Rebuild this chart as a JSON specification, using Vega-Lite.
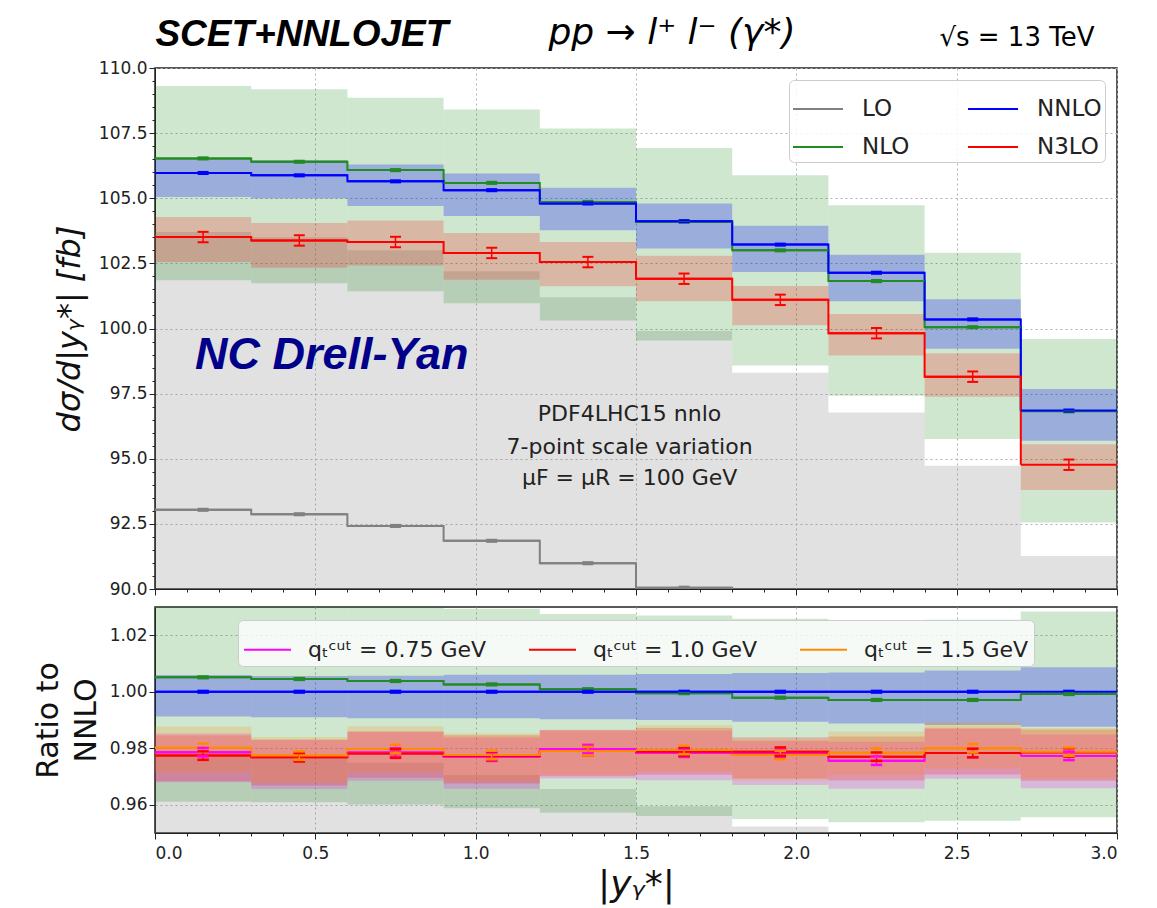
{
  "$schema": "https://vega.github.io/schema/vega-lite/v6.json",
  "padding": {"left": 32, "top": 14, "right": 5, "bottom": 5},
  "background": "white",
  "spacing": 8,
  "config": {
    "font": "DejaVu Sans",
    "view": {"stroke": "#222222", "strokeWidth": 1.5},
    "axis": {"gridColor": "#b0b0b0", "gridDash": [2, 3], "gridWidth": 1, "domainColor": "#222222", "tickColor": "#222222", "labelColor": "#222222", "labelFont": "DejaVu Sans", "titleFont": "DejaVu Sans", "titleColor": "#111111", "titleFontWeight": "normal", "labelFontSize": 17}
  },
  "datasets": {
    "up": [
      {"s":"LO","lo":0,"hi":0.3,"m":0.15,"c":93.04,"el":93.0,"eh":93.08,"bl":83.7,"bh":103.7},
      {"s":"LO","lo":0.3,"hi":0.6,"m":0.45,"c":92.87,"el":92.83,"eh":92.91,"bl":83.6,"bh":103.5},
      {"s":"LO","lo":0.6,"hi":0.9,"m":0.75,"c":92.42,"el":92.38,"eh":92.46,"bl":83.2,"bh":103.0},
      {"s":"LO","lo":0.9,"hi":1.2,"m":1.05,"c":91.85,"el":91.81,"eh":91.89,"bl":82.7,"bh":102.2},
      {"s":"LO","lo":1.2,"hi":1.5,"m":1.35,"c":90.99,"el":90.95,"eh":91.03,"bl":81.9,"bh":101.2},
      {"s":"LO","lo":1.5,"hi":1.8,"m":1.65,"c":90.05,"el":90.01,"eh":90.09,"bl":81.0,"bh":99.9},
      {"s":"LO","lo":1.8,"hi":2.1,"m":1.95,"c":89.0,"el":88.96,"eh":89.04,"bl":80.1,"bh":98.3},
      {"s":"LO","lo":2.1,"hi":2.4,"m":2.25,"c":87.8,"el":87.76,"eh":87.84,"bl":79.0,"bh":96.78},
      {"s":"LO","lo":2.4,"hi":2.7,"m":2.55,"c":86.1,"el":86.06,"eh":86.14,"bl":77.5,"bh":94.73},
      {"s":"LO","lo":2.7,"hi":3.0,"m":2.85,"c":83.5,"el":83.46,"eh":83.54,"bl":75.2,"bh":91.27},
      {"s":"NLO","lo":0,"hi":0.3,"m":0.15,"c":106.53,"el":106.49,"eh":106.57,"bl":101.85,"bh":109.31},
      {"s":"NLO","lo":0.3,"hi":0.6,"m":0.45,"c":106.4,"el":106.36,"eh":106.44,"bl":101.74,"bh":109.18},
      {"s":"NLO","lo":0.6,"hi":0.9,"m":0.75,"c":106.08,"el":106.04,"eh":106.12,"bl":101.43,"bh":108.86},
      {"s":"NLO","lo":0.9,"hi":1.2,"m":1.05,"c":105.59,"el":105.55,"eh":105.63,"bl":100.97,"bh":108.41},
      {"s":"NLO","lo":1.2,"hi":1.5,"m":1.35,"c":104.86,"el":104.82,"eh":104.9,"bl":100.31,"bh":107.68},
      {"s":"NLO","lo":1.5,"hi":1.8,"m":1.65,"c":104.1,"el":104.06,"eh":104.14,"bl":99.54,"bh":106.93},
      {"s":"NLO","lo":1.8,"hi":2.1,"m":1.95,"c":103.0,"el":102.96,"eh":103.04,"bl":98.58,"bh":105.88},
      {"s":"NLO","lo":2.1,"hi":2.4,"m":2.25,"c":101.82,"el":101.78,"eh":101.86,"bl":97.42,"bh":104.73},
      {"s":"NLO","lo":2.4,"hi":2.7,"m":2.55,"c":100.05,"el":100.01,"eh":100.09,"bl":95.76,"bh":102.91},
      {"s":"NLO","lo":2.7,"hi":3.0,"m":2.85,"c":96.82,"el":96.78,"eh":96.86,"bl":92.55,"bh":99.6},
      {"s":"NNLO","lo":0,"hi":0.3,"m":0.15,"c":105.97,"el":105.93,"eh":106.01,"bl":105.05,"bh":106.5},
      {"s":"NNLO","lo":0.3,"hi":0.6,"m":0.45,"c":105.88,"el":105.84,"eh":105.92,"bl":104.99,"bh":106.46},
      {"s":"NNLO","lo":0.6,"hi":0.9,"m":0.75,"c":105.65,"el":105.61,"eh":105.69,"bl":104.7,"bh":106.3},
      {"s":"NNLO","lo":0.9,"hi":1.2,"m":1.05,"c":105.31,"el":105.27,"eh":105.35,"bl":104.32,"bh":105.95},
      {"s":"NNLO","lo":1.2,"hi":1.5,"m":1.35,"c":104.8,"el":104.76,"eh":104.84,"bl":103.77,"bh":105.4},
      {"s":"NNLO","lo":1.5,"hi":1.8,"m":1.65,"c":104.12,"el":104.08,"eh":104.16,"bl":103.07,"bh":104.8},
      {"s":"NNLO","lo":1.8,"hi":2.1,"m":1.95,"c":103.22,"el":103.18,"eh":103.26,"bl":102.17,"bh":103.94},
      {"s":"NNLO","lo":2.1,"hi":2.4,"m":2.25,"c":102.14,"el":102.1,"eh":102.18,"bl":101.05,"bh":102.83},
      {"s":"NNLO","lo":2.4,"hi":2.7,"m":2.55,"c":100.35,"el":100.31,"eh":100.39,"bl":99.22,"bh":101.12},
      {"s":"NNLO","lo":2.7,"hi":3.0,"m":2.85,"c":96.85,"el":96.81,"eh":96.89,"bl":95.69,"bh":97.68},
      {"s":"N3LO","lo":0,"hi":0.3,"m":0.15,"c":103.51,"el":103.31,"eh":103.71,"bl":102.55,"bh":104.28},
      {"s":"N3LO","lo":0.3,"hi":0.6,"m":0.45,"c":103.38,"el":103.18,"eh":103.58,"bl":102.33,"bh":104.05},
      {"s":"N3LO","lo":0.6,"hi":0.9,"m":0.75,"c":103.32,"el":103.12,"eh":103.52,"bl":102.42,"bh":104.15},
      {"s":"N3LO","lo":0.9,"hi":1.2,"m":1.05,"c":102.9,"el":102.7,"eh":103.1,"bl":101.87,"bh":103.67},
      {"s":"N3LO","lo":1.2,"hi":1.5,"m":1.35,"c":102.55,"el":102.35,"eh":102.75,"bl":101.62,"bh":103.32},
      {"s":"N3LO","lo":1.5,"hi":1.8,"m":1.65,"c":101.91,"el":101.71,"eh":102.11,"bl":101.05,"bh":102.79},
      {"s":"N3LO","lo":1.8,"hi":2.1,"m":1.95,"c":101.1,"el":100.9,"eh":101.3,"bl":100.12,"bh":101.63},
      {"s":"N3LO","lo":2.1,"hi":2.4,"m":2.25,"c":99.82,"el":99.62,"eh":100.02,"bl":98.96,"bh":100.56},
      {"s":"N3LO","lo":2.4,"hi":2.7,"m":2.55,"c":98.15,"el":97.95,"eh":98.35,"bl":97.38,"bh":99.05},
      {"s":"N3LO","lo":2.7,"hi":3.0,"m":2.85,"c":94.77,"el":94.57,"eh":94.97,"bl":93.8,"bh":95.56}
    ],
    "rat": [
      {"s":"LO","lo":0,"hi":0.3,"m":0.15,"c":0.878,"el":0.878,"eh":0.878,"bl":0.8,"bh":0.9786},
      {"s":"LO","lo":0.3,"hi":0.6,"m":0.45,"c":0.877,"el":0.877,"eh":0.877,"bl":0.8,"bh":0.9775},
      {"s":"LO","lo":0.6,"hi":0.9,"m":0.75,"c":0.875,"el":0.875,"eh":0.875,"bl":0.8,"bh":0.9749},
      {"s":"LO","lo":0.9,"hi":1.2,"m":1.05,"c":0.872,"el":0.872,"eh":0.872,"bl":0.8,"bh":0.9705},
      {"s":"LO","lo":1.2,"hi":1.5,"m":1.35,"c":0.868,"el":0.868,"eh":0.868,"bl":0.8,"bh":0.9656},
      {"s":"LO","lo":1.5,"hi":1.8,"m":1.65,"c":0.865,"el":0.865,"eh":0.865,"bl":0.8,"bh":0.9595},
      {"s":"LO","lo":1.8,"hi":2.1,"m":1.95,"c":0.862,"el":0.862,"eh":0.862,"bl":0.8,"bh":0.9523},
      {"s":"LO","lo":2.1,"hi":2.4,"m":2.25,"c":0.86,"el":0.86,"eh":0.86,"bl":0.8,"bh":0.9475},
      {"s":"LO","lo":2.4,"hi":2.7,"m":2.55,"c":0.858,"el":0.858,"eh":0.858,"bl":0.8,"bh":0.944},
      {"s":"LO","lo":2.7,"hi":3.0,"m":2.85,"c":0.862,"el":0.862,"eh":0.862,"bl":0.8,"bh":0.9424},
      {"s":"NLO","lo":0,"hi":0.3,"m":0.15,"c":1.0051,"el":1.0048,"eh":1.0054,"bl":0.9611,"bh":1.0315},
      {"s":"NLO","lo":0.3,"hi":0.6,"m":0.45,"c":1.0045,"el":1.0042,"eh":1.0048,"bl":0.9609,"bh":1.0312},
      {"s":"NLO","lo":0.6,"hi":0.9,"m":0.75,"c":1.0038,"el":1.0035,"eh":1.0041,"bl":0.9601,"bh":1.0304},
      {"s":"NLO","lo":0.9,"hi":1.2,"m":1.05,"c":1.0026,"el":1.0023,"eh":1.0029,"bl":0.9588,"bh":1.0294},
      {"s":"NLO","lo":1.2,"hi":1.5,"m":1.35,"c":1.0009,"el":1.0006,"eh":1.0012,"bl":0.9572,"bh":1.0275},
      {"s":"NLO","lo":1.5,"hi":1.8,"m":1.65,"c":0.9995,"el":0.9992,"eh":0.9998,"bl":0.956,"bh":1.027},
      {"s":"NLO","lo":1.8,"hi":2.1,"m":1.95,"c":0.9979,"el":0.9976,"eh":0.9982,"bl":0.955,"bh":1.0258},
      {"s":"NLO","lo":2.1,"hi":2.4,"m":2.25,"c":0.9971,"el":0.9968,"eh":0.9974,"bl":0.9538,"bh":1.0254},
      {"s":"NLO","lo":2.4,"hi":2.7,"m":2.55,"c":0.9971,"el":0.9968,"eh":0.9974,"bl":0.9543,"bh":1.0255},
      {"s":"NLO","lo":2.7,"hi":3.0,"m":2.85,"c":0.9992,"el":0.9989,"eh":0.9995,"bl":0.9556,"bh":1.0284},
      {"s":"NNLO","lo":0,"hi":0.3,"m":0.15,"c":1.0,"el":0.9997,"eh":1.0003,"bl":0.9912,"bh":1.0059},
      {"s":"NNLO","lo":0.3,"hi":0.6,"m":0.45,"c":1.0,"el":0.9997,"eh":1.0003,"bl":0.991,"bh":1.0056},
      {"s":"NNLO","lo":0.6,"hi":0.9,"m":0.75,"c":1.0,"el":0.9997,"eh":1.0003,"bl":0.9906,"bh":1.0057},
      {"s":"NNLO","lo":0.9,"hi":1.2,"m":1.05,"c":1.0,"el":0.9997,"eh":1.0003,"bl":0.9906,"bh":1.006},
      {"s":"NNLO","lo":1.2,"hi":1.5,"m":1.35,"c":1.0,"el":0.9997,"eh":1.0003,"bl":0.9903,"bh":1.006},
      {"s":"NNLO","lo":1.5,"hi":1.8,"m":1.65,"c":1.0,"el":0.9997,"eh":1.0003,"bl":0.99,"bh":1.0063},
      {"s":"NNLO","lo":1.8,"hi":2.1,"m":1.95,"c":1.0,"el":0.9997,"eh":1.0003,"bl":0.9894,"bh":1.0066},
      {"s":"NNLO","lo":2.1,"hi":2.4,"m":2.25,"c":1.0,"el":0.9997,"eh":1.0003,"bl":0.9888,"bh":1.0068},
      {"s":"NNLO","lo":2.4,"hi":2.7,"m":2.55,"c":1.0,"el":0.9997,"eh":1.0003,"bl":0.9882,"bh":1.0075},
      {"s":"NNLO","lo":2.7,"hi":3.0,"m":2.85,"c":1.0,"el":0.9997,"eh":1.0003,"bl":0.9876,"bh":1.0087},
      {"s":"q075","lo":0,"hi":0.3,"m":0.15,"c":0.9786,"el":0.9771,"eh":0.9801,"bl":0.968,"bh":0.9853},
      {"s":"q075","lo":0.3,"hi":0.6,"m":0.45,"c":0.9771,"el":0.9756,"eh":0.9786,"bl":0.9656,"bh":0.9829},
      {"s":"q075","lo":0.6,"hi":0.9,"m":0.75,"c":0.9785,"el":0.977,"eh":0.98,"bl":0.9685,"bh":0.9858},
      {"s":"q075","lo":0.9,"hi":1.2,"m":1.05,"c":0.977,"el":0.9755,"eh":0.9785,"bl":0.9657,"bh":0.9838},
      {"s":"q075","lo":1.2,"hi":1.5,"m":1.35,"c":0.9797,"el":0.9782,"eh":0.9812,"bl":0.9693,"bh":0.9865},
      {"s":"q075","lo":1.5,"hi":1.8,"m":1.65,"c":0.9784,"el":0.9769,"eh":0.9799,"bl":0.9687,"bh":0.9863},
      {"s":"q075","lo":1.8,"hi":2.1,"m":1.95,"c":0.978,"el":0.9765,"eh":0.9795,"bl":0.967,"bh":0.9826},
      {"s":"q075","lo":2.1,"hi":2.4,"m":2.25,"c":0.9756,"el":0.9741,"eh":0.9771,"bl":0.9657,"bh":0.9823},
      {"s":"q075","lo":2.4,"hi":2.7,"m":2.55,"c":0.9783,"el":0.9768,"eh":0.9798,"bl":0.9692,"bh":0.9868},
      {"s":"q075","lo":2.7,"hi":3.0,"m":2.85,"c":0.9773,"el":0.9758,"eh":0.9788,"bl":0.9658,"bh":0.9849},
      {"s":"q10","lo":0,"hi":0.3,"m":0.15,"c":0.9774,"el":0.9759,"eh":0.9789,"bl":0.9683,"bh":0.9846},
      {"s":"q10","lo":0.3,"hi":0.6,"m":0.45,"c":0.9768,"el":0.9753,"eh":0.9783,"bl":0.9668,"bh":0.9831},
      {"s":"q10","lo":0.6,"hi":0.9,"m":0.75,"c":0.9781,"el":0.9766,"eh":0.9796,"bl":0.9696,"bh":0.9859},
      {"s":"q10","lo":0.9,"hi":1.2,"m":1.05,"c":0.9773,"el":0.9758,"eh":0.9788,"bl":0.9675,"bh":0.9846},
      {"s":"q10","lo":1.2,"hi":1.5,"m":1.35,"c":0.979,"el":0.9775,"eh":0.9805,"bl":0.9701,"bh":0.9863},
      {"s":"q10","lo":1.5,"hi":1.8,"m":1.65,"c":0.9788,"el":0.9773,"eh":0.9803,"bl":0.9706,"bh":0.9872},
      {"s":"q10","lo":1.8,"hi":2.1,"m":1.95,"c":0.9788,"el":0.9773,"eh":0.9803,"bl":0.9693,"bh":0.9839},
      {"s":"q10","lo":2.1,"hi":2.4,"m":2.25,"c":0.977,"el":0.9755,"eh":0.9785,"bl":0.9686,"bh":0.9842},
      {"s":"q10","lo":2.4,"hi":2.7,"m":2.55,"c":0.9783,"el":0.9768,"eh":0.9798,"bl":0.9707,"bh":0.9873},
      {"s":"q10","lo":2.7,"hi":3.0,"m":2.85,"c":0.9785,"el":0.977,"eh":0.98,"bl":0.9685,"bh":0.9866},
      {"s":"q15","lo":0,"hi":0.3,"m":0.15,"c":0.9802,"el":0.9787,"eh":0.9817,"bl":0.9716,"bh":0.9877},
      {"s":"q15","lo":0.3,"hi":0.6,"m":0.45,"c":0.9774,"el":0.9759,"eh":0.9789,"bl":0.9679,"bh":0.984},
      {"s":"q15","lo":0.6,"hi":0.9,"m":0.75,"c":0.9797,"el":0.9782,"eh":0.9812,"bl":0.9717,"bh":0.9878},
      {"s":"q15","lo":0.9,"hi":1.2,"m":1.05,"c":0.9776,"el":0.9761,"eh":0.9791,"bl":0.9683,"bh":0.9852},
      {"s":"q15","lo":1.2,"hi":1.5,"m":1.35,"c":0.979,"el":0.9775,"eh":0.9805,"bl":0.9706,"bh":0.9866},
      {"s":"q15","lo":1.5,"hi":1.8,"m":1.65,"c":0.9794,"el":0.9779,"eh":0.9809,"bl":0.9717,"bh":0.9881},
      {"s":"q15","lo":1.8,"hi":2.1,"m":1.95,"c":0.9776,"el":0.9761,"eh":0.9791,"bl":0.9686,"bh":0.983},
      {"s":"q15","lo":2.1,"hi":2.4,"m":2.25,"c":0.9784,"el":0.9769,"eh":0.9799,"bl":0.9705,"bh":0.9859},
      {"s":"q15","lo":2.4,"hi":2.7,"m":2.55,"c":0.98,"el":0.9785,"eh":0.9815,"bl":0.9729,"bh":0.9893},
      {"s":"q15","lo":2.7,"hi":3.0,"m":2.85,"c":0.9788,"el":0.9773,"eh":0.9803,"bl":0.9693,"bh":0.9872}
    ]
  },
  "vconcat": [
    {
      "width": 962,
      "height": 521,
      "data": {"name": "up"},
      "layer": [
        {
          "mark": {"type": "rect", "clip": true},
          "encoding": {
            "x": {"field": "lo", "type": "quantitative", "scale": {"domain": [0, 3], "nice": false, "zero": false},
              "axis": {"values": [0,0.1,0.2,0.3,0.4,0.5,0.6,0.7,0.8,0.9,1,1.1,1.2,1.3,1.4,1.5,1.6,1.7,1.8,1.9,2,2.1,2.2,2.3,2.4,2.5,2.6,2.7,2.8,2.9,3],
                "tickCount": 200, "labels": false, "title": null,
                "tickSize": {"condition": {"test": "round(datum.value*10) % 5 == 0", "value": 6}, "value": 3},
                "gridOpacity": {"condition": {"test": "round(datum.value*10) % 5 == 0", "value": 1}, "value": 0}}},
            "x2": {"field": "hi"},
            "y": {"field": "bl", "type": "quantitative", "scale": {"domain": [90, 110], "nice": false, "zero": false},
              "axis": {"values": [90,90.5,91,91.5,92,92.5,93,93.5,94,94.5,95,95.5,96,96.5,97,97.5,98,98.5,99,99.5,100,100.5,101,101.5,102,102.5,103,103.5,104,104.5,105,105.5,106,106.5,107,107.5,108,108.5,109,109.5,110],
                "tickCount": 200,
                "labelExpr": "round(datum.value*2) % 5 == 0 ? format(datum.value, '.1f') : ''",
                "labelOverlap": false, "labelBound": false,
                "tickSize": {"condition": {"test": "round(datum.value*2) % 5 == 0", "value": 6}, "value": 3},
                "gridOpacity": {"condition": {"test": "round(datum.value*2) % 5 == 0", "value": 1}, "value": 0},
                "title": "dσ/d|yᵧ*| [fb]", "titleFontSize": 32, "titleFontStyle": "italic", "titlePadding": 12}},
            "y2": {"field": "bh"},
            "fill": {"field": "s", "type": "nominal", "legend": null,
              "scale": {"domain": ["N3LO", "NNLO", "NLO", "LO"], "range": ["rgba(255,0,0,0.2)", "rgba(0,0,255,0.25)", "rgba(0,128,0,0.19)", "rgba(128,128,128,0.24)"]}}
          }
        },
        {
          "mark": {"type": "line", "interpolate": "step-after", "clip": true, "strokeWidth": 2},
          "encoding": {
            "x": {"field": "lo", "type": "quantitative"},
            "y": {"field": "c", "type": "quantitative"},
            "color": {"field": "s", "type": "nominal",
              "scale": {"domain": ["LO", "NLO", "NNLO", "N3LO"], "range": ["#808080", "#228b22", "#0000ff", "#ff0000"]},
              "legend": {"orient": "top-right", "offset": 12, "columns": 2, "columnPadding": 54, "rowPadding": -9, "padding": 3,
                "labelFontSize": 23, "labelOffset": 18, "labelColor": "#222222", "labelLimit": 300, "symbolSize": 2500, "symbolStrokeWidth": 2, "symbolType": "stroke",
                "strokeColor": "#cccccc", "fillColor": "rgba(255,255,255,0.85)", "cornerRadius": 5, "title": null}}
          }
        },
        {
          "mark": {"type": "rule", "clip": true, "strokeWidth": 2},
          "encoding": {
            "x": {"field": "lo", "type": "quantitative"},
            "x2": {"field": "hi"},
            "y": {"field": "c", "type": "quantitative"},
            "color": {"field": "s", "type": "nominal"}
          }
        },
        {
          "mark": {"type": "rule", "clip": true, "strokeWidth": 1.5},
          "encoding": {
            "x": {"field": "m", "type": "quantitative"},
            "y": {"field": "el", "type": "quantitative"},
            "y2": {"field": "eh"},
            "color": {"field": "s", "type": "nominal"}
          }
        },
        {
          "mark": {"type": "tick", "orient": "horizontal", "clip": true, "size": 11, "thickness": 2, "opacity": 1},
          "encoding": {
            "x": {"field": "m", "type": "quantitative"},
            "y": {"field": "el", "type": "quantitative"},
            "color": {"field": "s", "type": "nominal"}
          }
        },
        {
          "mark": {"type": "tick", "orient": "horizontal", "clip": true, "size": 11, "thickness": 2, "opacity": 1},
          "encoding": {
            "x": {"field": "m", "type": "quantitative"},
            "y": {"field": "eh", "type": "quantitative"},
            "color": {"field": "s", "type": "nominal"}
          }
        },
        {
          "data": {"values": [{"tx": 0.458, "ty": 110.845, "t": "SCET+NNLOJET"}]},
          "mark": {"type": "text", "font": "Liberation Sans", "fontSize": 37, "fontWeight": "bold", "fontStyle": "italic", "align": "center", "baseline": "alphabetic", "color": "#000000"},
          "encoding": {"x": {"field": "tx", "type": "quantitative"}, "y": {"field": "ty", "type": "quantitative"}, "text": {"field": "t"}}
        },
        {
          "data": {"values": [{"tx": 1.612, "ty": 110.92, "t": "pp → l⁺ l⁻ (γ*)"}]},
          "mark": {"type": "text", "font": "DejaVu Sans", "fontSize": 36, "fontStyle": "italic", "align": "center", "baseline": "alphabetic", "color": "#000000"},
          "encoding": {"x": {"field": "tx", "type": "quantitative"}, "y": {"field": "ty", "type": "quantitative"}, "text": {"field": "t"}}
        },
        {
          "data": {"values": [{"tx": 2.688, "ty": 110.845, "t": "√s = 13 TeV"}]},
          "mark": {"type": "text", "font": "DejaVu Sans", "fontSize": 26, "align": "center", "baseline": "alphabetic", "color": "#000000"},
          "encoding": {"x": {"field": "tx", "type": "quantitative"}, "y": {"field": "ty", "type": "quantitative"}, "text": {"field": "t"}}
        },
        {
          "data": {"values": [{"tx": 0.125, "ty": 98.45, "t": "NC Drell-Yan"}]},
          "mark": {"type": "text", "font": "Liberation Sans", "fontSize": 45, "fontWeight": "bold", "fontStyle": "italic", "align": "left", "baseline": "alphabetic", "color": "#00008b"},
          "encoding": {"x": {"field": "tx", "type": "quantitative"}, "y": {"field": "ty", "type": "quantitative"}, "text": {"field": "t"}}
        },
        {
          "data": {"values": [
            {"tx": 1.48, "ty": 96.72, "t": "PDF4LHC15 nnlo"},
            {"tx": 1.48, "ty": 95.45, "t": "7-point scale variation"},
            {"tx": 1.48, "ty": 94.26, "t": "μF = μR = 100 GeV"}
          ]},
          "mark": {"type": "text", "font": "DejaVu Sans", "fontSize": 22, "align": "center", "baseline": "middle", "color": "#222222"},
          "encoding": {"x": {"field": "tx", "type": "quantitative"}, "y": {"field": "ty", "type": "quantitative"}, "text": {"field": "t"}}
        }
      ]
    },
    {
      "width": 962,
      "height": 226,
      "data": {"name": "rat"},
      "layer": [
        {
          "mark": {"type": "rect", "clip": true},
          "encoding": {
            "x": {"field": "lo", "type": "quantitative", "scale": {"domain": [0, 3], "nice": false, "zero": false},
              "axis": {"values": [0,0.1,0.2,0.3,0.4,0.5,0.6,0.7,0.8,0.9,1,1.1,1.2,1.3,1.4,1.5,1.6,1.7,1.8,1.9,2,2.1,2.2,2.3,2.4,2.5,2.6,2.7,2.8,2.9,3],
                "tickCount": 200,
                "labelExpr": "round(datum.value*10) % 5 == 0 ? format(datum.value, '.1f') : ''",
                "labelOverlap": false, "labelBound": false, "labelPadding": 6,
                "tickSize": {"condition": {"test": "round(datum.value*10) % 5 == 0", "value": 6}, "value": 3},
                "gridOpacity": {"condition": {"test": "round(datum.value*10) % 5 == 0", "value": 1}, "value": 0},
                "title": "|yᵧ*|", "titleFontSize": 36, "titleFontStyle": "italic", "titlePadding": 6}},
            "x2": {"field": "hi"},
            "y": {"field": "bl", "type": "quantitative", "scale": {"domain": [0.95, 1.03], "nice": false, "zero": false},
              "axis": {"values": [0.96, 0.98, 1.0, 1.02], "tickCount": 200, "format": ".2f", "tickSize": 6,
                "title": ["Ratio to", "NNLO"], "titleFontSize": 30, "titleLineHeight": 38, "titlePadding": 8}},
            "y2": {"field": "bh"},
            "fill": {"field": "s", "type": "nominal", "legend": null,
              "scale": {"domain": ["q15", "q10", "q075", "NNLO", "NLO", "LO"], "range": ["rgba(255,140,0,0.2)", "rgba(255,0,0,0.2)", "rgba(255,0,255,0.2)", "rgba(0,0,255,0.25)", "rgba(0,128,0,0.19)", "rgba(128,128,128,0.24)"]}}
          }
        },
        {
          "mark": {"type": "line", "interpolate": "step-after", "clip": true, "strokeWidth": 2},
          "encoding": {
            "x": {"field": "lo", "type": "quantitative"},
            "y": {"field": "c", "type": "quantitative"},
            "stroke": {"field": "s", "type": "nominal",
              "scale": {"domain": ["LO", "NLO", "NNLO", "q075", "q10", "q15"], "range": ["#808080", "#228b22", "#0000ff", "#ff00ff", "#ff0000", "#ff8c00"]},
              "legend": {"orient": "none", "legendX": 83, "legendY": 13, "direction": "horizontal", "columns": 3, "columnPadding": 38, "padding": 5,
                "values": ["q075", "q10", "q15"],
                "labelExpr": "datum.label == 'q075' ? 'qₜᶜᵘᵗ = 0.75 GeV' : (datum.label == 'q10' ? 'qₜᶜᵘᵗ = 1.0 GeV' : 'qₜᶜᵘᵗ = 1.5 GeV')",
                "labelFontSize": 22, "labelOffset": 16, "labelColor": "#222222", "labelLimit": 400, "symbolSize": 2209, "symbolStrokeWidth": 2, "symbolType": "stroke",
                "strokeColor": "#cccccc", "fillColor": "rgba(255,255,255,0.8)", "cornerRadius": 5, "title": null}}
          }
        },
        {
          "mark": {"type": "rule", "clip": true, "strokeWidth": 2},
          "encoding": {
            "x": {"field": "lo", "type": "quantitative"},
            "x2": {"field": "hi"},
            "y": {"field": "c", "type": "quantitative"},
            "stroke": {"field": "s", "type": "nominal"}
          }
        },
        {
          "mark": {"type": "rule", "clip": true, "strokeWidth": 1.5},
          "encoding": {
            "x": {"field": "m", "type": "quantitative"},
            "y": {"field": "el", "type": "quantitative"},
            "y2": {"field": "eh"},
            "stroke": {"field": "s", "type": "nominal"}
          }
        },
        {
          "mark": {"type": "tick", "orient": "horizontal", "clip": true, "size": 10, "thickness": 1, "filled": false, "strokeWidth": 1.5, "opacity": 1},
          "encoding": {
            "x": {"field": "m", "type": "quantitative"},
            "y": {"field": "el", "type": "quantitative"},
            "stroke": {"field": "s", "type": "nominal"}
          }
        },
        {
          "mark": {"type": "tick", "orient": "horizontal", "clip": true, "size": 10, "thickness": 1, "filled": false, "strokeWidth": 1.5, "opacity": 1},
          "encoding": {
            "x": {"field": "m", "type": "quantitative"},
            "y": {"field": "eh", "type": "quantitative"},
            "stroke": {"field": "s", "type": "nominal"}
          }
        }
      ]
    }
  ],
  "resolve": {
    "scale": {"color": "independent", "fill": "independent", "stroke": "independent", "y": "independent"},
    "legend": {"color": "independent", "stroke": "independent"}
  }
}
